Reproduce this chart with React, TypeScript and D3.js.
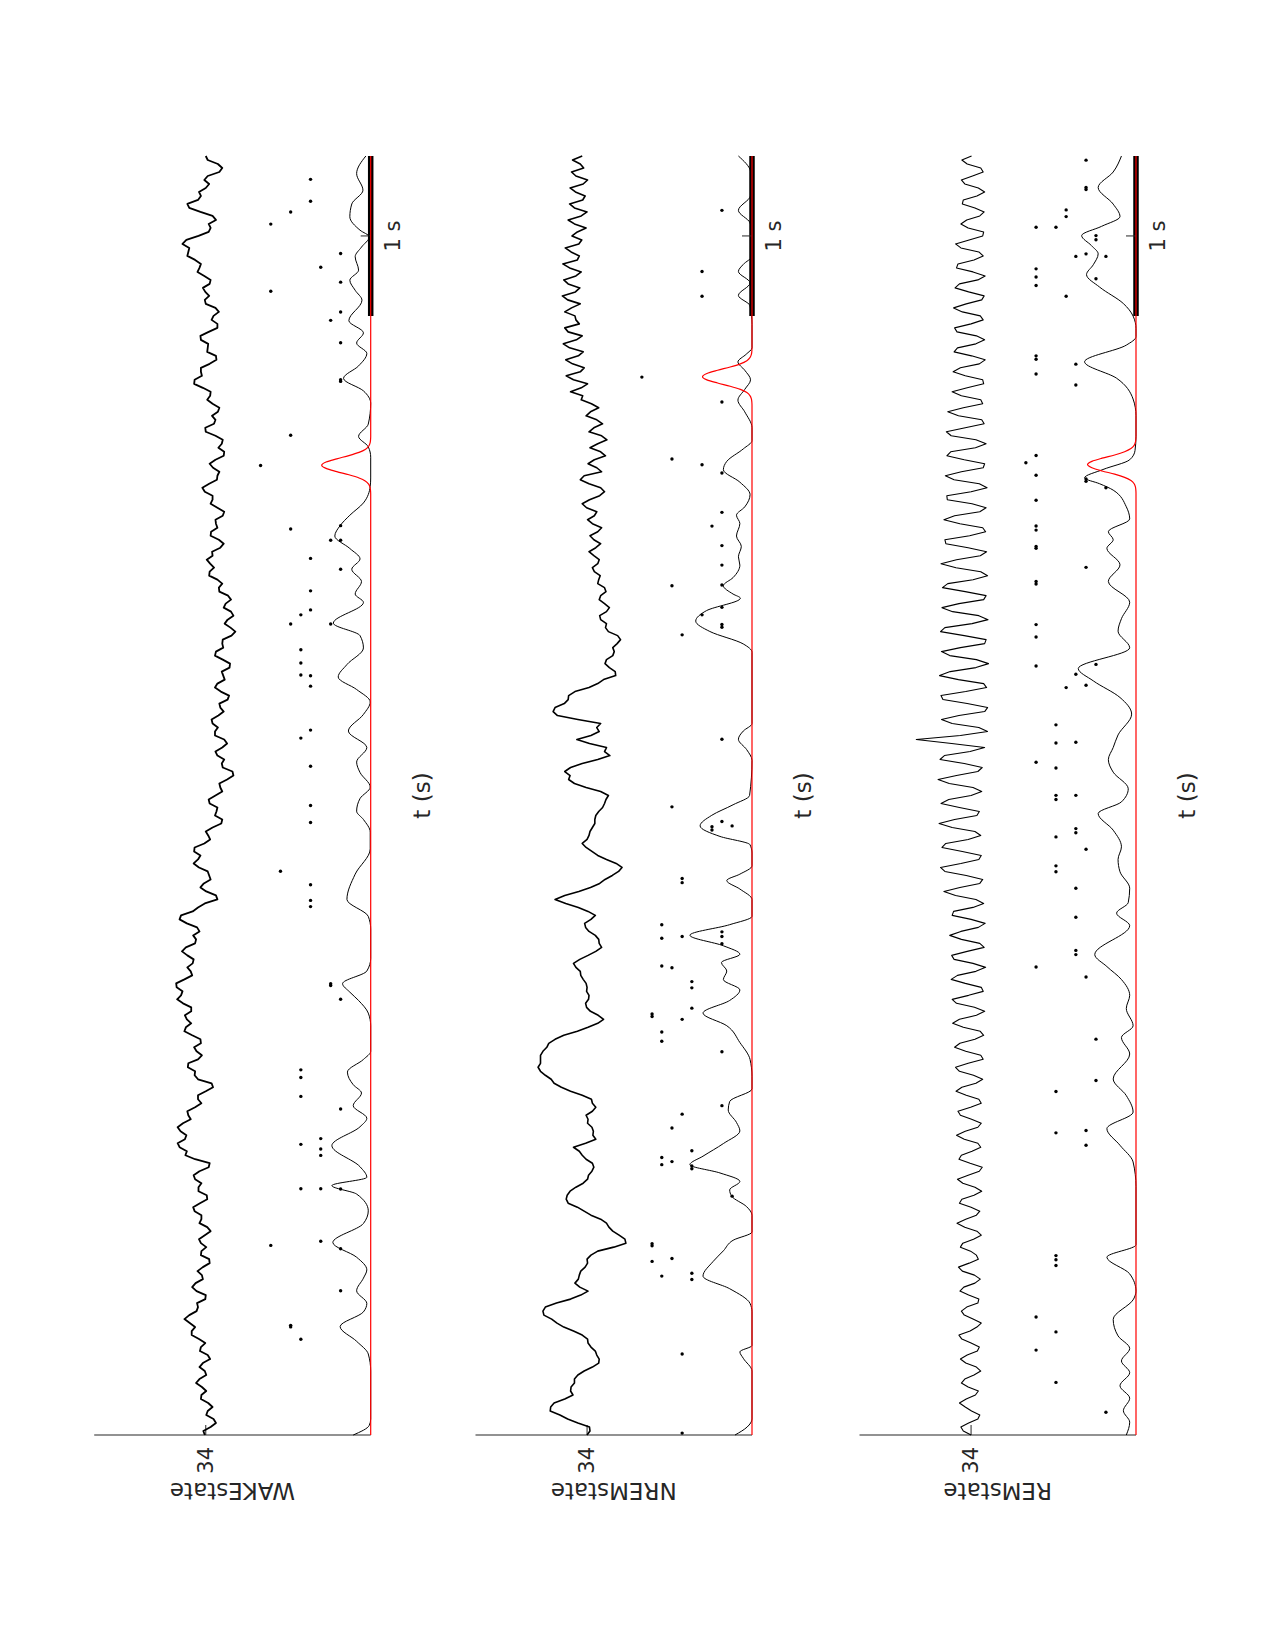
import * as d3 from 'd3';

// LFP sample step (s)
const LFP_DT = 0.025;

const wakeLfp = [
  34.2, 34.5, 33.0, 31.9, 32.4, 33.9, 33.6, 32.6, 33.5, 35.0, 34.9, 33.9, 34.8, 36.0, 35.3, 33.9, 34.2, 35.3, 34.6, 33.1,
  33.6, 35.2, 35.0, 34.1, 35.4, 36.9, 36.9, 36.2, 37.3, 38.4, 37.4, 35.9, 35.6, 35.8, 34.1, 34.0, 35.9, 36.8, 36.1, 34.6,
  34.8, 35.7, 34.6, 33.2, 33.3, 35.0, 34.9, 33.9, 35.0, 35.4, 34.2, 33.0, 33.7, 35.3, 34.9, 34.9, 36.3, 36.6, 35.2, 33.7,
  33.8, 35.5, 35.5, 34.9, 36.2, 36.5, 35.3, 33.4, 33.2, 36.2, 38.2, 37.9, 39.4, 39.8, 38.3, 38.0, 39.2, 39.8, 38.7, 37.1,
  37.6, 37.8, 36.2, 34.9, 35.6, 35.6, 34.0, 32.5, 32.8, 35.6, 36.3, 36.2, 37.7, 37.6, 35.6, 34.8, 35.9, 36.4, 35.0, 35.1,
  36.8, 38.4, 38.1, 37.0, 37.9, 38.3, 37.0, 37.0, 38.7, 39.9, 39.1, 38.8, 40.0, 40.1, 38.4, 36.8, 37.1, 37.8, 36.7, 36.5,
  37.8, 38.9, 38.1, 36.2, 36.0, 36.6, 35.3, 35.8, 37.9, 39.4, 39.1, 36.7, 35.6, 34.2, 31.6, 31.9, 33.9, 35.1, 34.4, 33.0,
  33.3, 33.6, 35.4, 36.5, 35.6, 35.1, 36.4, 36.3, 34.3, 33.1, 33.5, 34.0, 32.6, 30.8, 30.6, 32.1, 31.8, 31.6, 33.2, 33.4,
  32.0, 30.6, 31.0, 31.2, 29.6, 28.3, 28.5, 30.5, 30.7, 30.2, 31.6, 32.0, 30.6, 29.6, 30.2, 32.1, 32.1, 31.5, 32.6, 32.8,
  31.4, 30.3, 31.0, 31.2, 29.5, 29.2, 30.9, 32.1, 31.6, 30.1, 30.4, 30.7, 29.1, 29.0, 30.5, 32.1, 31.9, 30.4, 30.6, 30.5,
  28.7, 27.9, 28.9, 30.1, 29.5, 28.3, 28.8, 30.3, 29.9, 28.8, 29.4, 31.2, 31.3, 30.6, 31.6, 33.3, 33.2, 32.3, 33.1, 33.8,
  32.6, 32.7, 31.0, 30.3, 31.3, 33.0, 32.9, 31.6, 31.9, 32.0, 30.5, 30.2, 31.6, 33.0, 32.6, 32.6, 34.2, 34.7, 33.3, 31.7,
  31.6, 31.2, 32.5, 33.2, 32.0, 30.3, 30.2, 31.4, 30.7, 30.5, 32.0, 34.0, 34.1, 32.3, 32.0, 32.7, 31.5, 31.2, 32.6, 33.7,
  33.1, 33.0, 34.6, 36.4, 36.3, 34.8, 35.0, 35.0, 33.2, 31.8, 31.9, 33.7, 33.6, 33.5, 35.0, 35.1, 33.4, 31.6, 31.6, 32.8,
  32.4, 31.3, 32.0, 34.0, 34.2, 33.3, 34.1, 34.6, 33.2, 33.0, 34.3, 35.7, 35.3, 35.0, 36.2, 37.8, 37.6, 37.4, 38.8, 38.0,
  35.5, 33.4, 33.0, 33.4, 31.9, 32.6, 35.1, 37.4, 37.8, 35.6, 35.0, 35.4, 34.0, 33.3, 34.3, 33.6, 31.2, 30.6, 31.5, 33.6,
  34.0,
];

const nremLfp = [
  34.0, 33.4, 33.5, 35.9, 38.0, 39.6, 41.6, 41.5, 40.8, 38.6, 36.9, 37.4, 37.3, 36.6, 36.6, 35.9, 34.6, 32.9, 31.6, 31.5,
  32.0, 32.3, 33.2, 33.8, 33.9, 35.0, 36.8, 38.8, 40.2, 41.3, 42.9, 43.1, 42.6, 40.3, 37.4, 35.3, 33.8, 35.5, 36.5, 35.8,
  35.6, 35.3, 34.4, 33.9, 34.0, 33.2, 31.8, 28.5, 26.0, 26.2, 27.4, 28.7, 29.5, 30.0, 31.2, 33.2, 34.6, 36.0, 37.9, 38.3,
  38.1, 37.5, 36.3, 34.8, 33.9, 33.7, 33.0, 32.6, 32.9, 34.2, 35.0, 35.6, 36.8, 34.3, 32.2, 32.8, 32.7, 33.0, 33.9, 33.8,
  34.2, 32.9, 32.2, 32.9, 33.1, 35.0, 37.4, 39.3, 40.8, 41.4, 42.6, 43.6, 44.1, 43.6, 43.6, 43.6, 43.1, 42.3, 41.9, 40.6,
  38.8, 36.0, 33.8, 31.8, 30.6, 31.7, 33.3, 34.1, 34.3, 33.7, 33.6, 34.1, 34.0, 34.2, 34.8, 35.3, 35.4, 36.3, 36.8, 35.5,
  33.8, 32.2, 31.0, 31.5, 31.6, 32.3, 33.6, 34.3, 34.5, 33.2, 32.3, 33.8, 35.8, 38.4, 40.6, 38.6, 35.7, 33.3, 31.4, 30.3,
  28.8, 27.5, 26.8, 28.0, 30.0, 31.8, 33.0, 34.2, 35.0, 34.0, 33.6, 33.4, 32.9, 32.4, 32.4, 32.2, 31.6, 30.8, 30.4, 30.1,
  29.6, 31.2, 34.2, 36.6, 37.8, 37.5, 38.6, 37.4, 35.0, 31.8, 29.3, 30.4, 30.0, 33.5, 36.1, 33.2, 31.5, 32.0, 31.2, 35.9,
  40.1, 41.0, 40.6, 38.7, 37.9, 37.8, 36.5, 33.6, 31.8, 30.6, 28.1, 28.2, 29.4, 30.3, 30.0, 28.7, 28.4, 28.7, 27.8, 27.1,
  27.7, 29.6, 30.2, 30.0, 31.2, 31.4, 30.0, 29.4, 30.4, 31.5, 31.2, 30.1, 30.4, 31.8, 31.6, 31.3, 32.5, 32.9, 31.8, 31.5,
  32.6, 33.6, 32.2, 31.2, 32.6, 33.4, 31.8, 31.0, 32.9, 33.9, 32.5, 32.0, 34.1, 35.0, 33.5, 31.4, 30.4, 31.2, 33.6, 35.4,
  34.6, 31.0, 32.0, 33.8, 32.5, 30.2, 31.2, 33.4, 31.8, 29.9, 31.0, 33.6, 32.6, 30.8, 32.0, 34.2, 33.3, 31.6, 33.1, 35.2,
  34.9, 37.4, 35.2, 33.9, 36.8, 38.3, 35.4, 34.6, 37.0, 38.4, 35.8, 34.8, 37.6, 38.9, 36.2, 35.0, 37.9, 38.6, 35.6, 36.3,
  36.5, 38.6, 37.2, 35.4, 38.0, 39.1, 36.4, 35.5, 37.9, 38.8, 36.3, 35.2, 37.6, 39.0, 36.0, 35.6, 37.3, 38.5, 35.7, 35.1,
  37.1, 36.0, 34.2, 36.6, 37.9, 35.2, 34.0, 36.6, 37.6, 34.9, 34.4, 36.4, 37.5, 34.8, 33.9, 36.3, 37.2, 34.7, 35.4, 37.0,
  35.0,
];

const remLfp = [
  34.0, 35.6, 36.1, 34.5, 32.6, 32.2, 33.9, 35.2, 36.4, 35.0, 33.1, 32.5, 34.6, 36.0, 35.3, 33.4, 32.0, 32.9, 35.1, 36.2,
  34.8, 32.7, 32.3, 34.0, 35.9, 36.5, 34.2, 32.8, 31.9, 33.6, 35.4, 36.0, 34.9, 32.6, 32.4, 34.5, 36.3, 35.5, 33.2, 32.1,
  33.3, 35.8, 36.6, 34.4, 32.5, 32.9, 34.1, 36.2, 35.7, 33.5, 31.9, 32.8, 35.3, 36.9, 35.1, 32.9, 32.2, 34.0, 36.4, 35.9,
  33.4, 31.8, 33.2, 35.7, 36.8, 34.6, 32.3, 31.7, 34.2, 36.5, 36.0, 33.8, 32.0, 32.6, 35.4, 37.0, 35.2, 32.6, 31.9, 33.9,
  36.2, 36.7, 34.1, 31.9, 32.4, 35.0, 37.1, 35.9, 33.0, 31.6, 33.5, 36.4, 37.2, 34.6, 31.5, 32.0, 35.1, 37.4, 36.3, 33.2,
  31.4, 32.1, 35.6, 37.8, 36.4, 32.9, 31.2, 33.3, 37.0, 37.9, 34.5, 31.5, 31.9, 35.2, 38.1, 36.8, 33.0, 31.0, 33.6, 37.5,
  38.0, 34.8, 31.3, 32.2, 36.0, 38.4, 36.1, 32.5, 31.1, 34.0, 37.9, 37.6, 33.6, 31.4, 33.0, 37.2, 39.6, 36.3, 32.2, 31.6,
  35.0, 39.4, 40.3, 36.1, 32.4, 31.9, 35.8, 40.0, 39.2, 34.6, 32.0, 33.2, 37.9, 40.6, 37.4, 32.8, 32.3, 36.4, 40.2, 38.6,
  34.0, 31.8, 33.6, 38.5, 40.8, 37.0, 32.6, 31.7, 35.4, 40.4, 39.5, 34.2, 31.2, 38.0, 45.3, 36.2, 30.6, 32.4, 37.9, 40.1,
  36.5, 31.2, 30.6, 34.8, 39.8, 40.2, 35.1, 30.8, 31.4, 36.6, 40.5, 38.3, 33.0, 30.4, 32.9, 38.4, 40.1, 36.2, 31.2, 30.9,
  35.4, 40.3, 39.4, 33.8, 30.5, 32.4, 37.8, 40.0, 36.5, 31.4, 30.9, 35.2, 39.9, 38.8, 33.6, 30.6, 32.0, 37.1, 40.2, 37.0,
  32.1, 30.8, 34.6, 39.2, 39.4, 34.3, 31.0, 31.6, 36.3, 39.6, 37.4, 32.2, 30.9, 33.8, 38.9, 39.0, 34.0, 30.7, 32.3, 37.5,
  39.3, 36.0, 31.5, 31.2, 35.4, 39.0, 38.2, 33.1, 30.9, 33.0, 38.1, 39.1, 35.2, 31.3, 31.8, 36.6, 38.8, 35.6, 31.6, 32.0,
  36.0, 37.9, 34.8, 31.4, 31.6, 35.2, 37.7, 36.2, 32.3, 31.1, 33.9, 37.5, 36.8, 33.0, 31.2, 32.9, 36.9, 37.4, 34.0, 31.5,
  32.1, 35.8, 37.6, 35.0, 31.8, 31.3, 34.5, 37.3, 36.4, 32.6, 31.1, 33.6, 37.0, 36.7, 33.4, 31.5, 32.4, 36.1, 37.2, 34.4,
  31.6, 31.4, 34.6, 36.1, 34.9, 32.2, 31.3, 33.2, 35.8, 35.6, 32.8, 31.2, 32.5, 35.3, 36.0, 33.7, 31.5, 32.0, 34.8, 35.9,
  33.9,
];

// smoothed population rate, [t, value]
const wakeRate: [number, number][] = [
  [0, 3.6], [0.06, 0.3], [0.1, 0], [0.4, 0], [0.507, 0.5], [0.586, 2.9], [0.678, 6.3], [0.77, 1.5],
  [0.823, 0.8], [0.902, 2.9], [0.981, 1.5], [1.033, 0.8], [1.112, 2.9], [1.204, 7.8], [1.323, 1.5],
  [1.402, 0.5], [1.507, 2.9], [1.56, 8.0], [1.612, 0.8], [1.678, 2.2], [1.81, 8.0], [1.928, 2.2],
  [1.981, 0.8], [2.06, 3.6], [2.139, 1.9], [2.191, 3.6], [2.27, 4.8], [2.349, 1.5], [2.4, 0],
  [2.56, 0], [2.639, 0.5], [2.718, 2.5], [2.77, 4.3], [2.823, 5.8], [2.902, 0.8], [2.981, 0],
  [3.165, 0], [3.244, 0.5], [3.35, 4.9], [3.508, 3.2], [3.666, 0.1], [3.771, 0.1], [3.85, 1.5],
  [3.902, 2.9], [3.981, 2.2], [4.053, 0.1], [4.144, 2.2], [4.209, 2.9], [4.3, 0.8], [4.403, 4.6],
  [4.507, 1.5], [4.585, 0.1], [4.663, 2.9], [4.741, 6.7], [4.819, 4.9], [4.923, 1.5], [5.0, 2.2],
  [5.078, 7.7], [5.208, 1.5], [5.26, 3.2], [5.338, 1.9], [5.415, 3.9], [5.48, 2.2], [5.545, 4.3],
  [5.623, 7.4], [5.688, 6.3], [5.753, 4.3], [5.83, 1.5], [5.934, 0.1], [5.986, 0], [6.116, 0],
  [6.181, 0.5], [6.246, 2.5], [6.323, 0.5], [6.453, 0], [6.531, 1.5], [6.609, 5.6], [6.687, 2.5],
  [6.765, 0.8], [6.83, 2.9], [6.894, 1.5], [6.97, 4.5], [7.098, 1.8], [7.16, 3.2], [7.223, 4.3],
  [7.286, 2.5], [7.37, 3.2], [7.43, 1.9], [7.494, 0.3], [7.536, 2.2], [7.62, 4.3], [7.7, 3.9],
  [7.786, 1.6], [7.89, 2.9], [8.0, 1.0],
];

const nremRate: [number, number][] = [
  [0, 3.5], [0.05, 1.0], [0.1, 0], [0.4, 0], [0.48, 1.8], [0.52, 2.5], [0.56, 0], [0.77, 0],
  [0.823, 0.4], [0.915, 4.6], [0.994, 10.1], [1.086, 8.0], [1.152, 5.9], [1.218, 3.9], [1.27, 0],
  [1.375, 0], [1.428, 1.1], [1.494, 4.2], [1.533, 4.6], [1.586, 2.5], [1.639, 6.6], [1.691, 12.8],
  [1.744, 10.1], [1.823, 5.9], [1.902, 2.5], [1.955, 3.2], [2.033, 4.9], [2.086, 4.6], [2.165, 0],
  [2.244, 0], [2.349, 0.4], [2.455, 2.5], [2.56, 5.2], [2.639, 10.1], [2.718, 4.6], [2.784, 2.5],
  [2.849, 5.9], [2.902, 5.2], [2.955, 6.3], [3.007, 2.5], [3.06, 5.9], [3.126, 12.8], [3.192, 4.6],
  [3.244, 0], [3.35, 0], [3.415, 2.5], [3.468, 5.2], [3.508, 2.5], [3.56, 0], [3.64, 0],
  [3.692, 0.4], [3.744, 6.6], [3.81, 10.7], [3.876, 8.3], [3.942, 3.9], [4.0, 0.5], [4.22, 0],
  [4.287, 1.1], [4.352, 2.8], [4.403, 1.8], [4.45, 0], [4.896, 0], [4.948, 1.8], [5.026, 8.7],
  [5.091, 11.6], [5.156, 9.4], [5.234, 2.4], [5.26, 3.9], [5.312, 5.9], [5.363, 3.9], [5.441, 2.5],
  [5.493, 2.8], [5.558, 2.2], [5.623, 3.2], [5.701, 2.5], [5.753, 3.2], [5.805, 1.5], [5.882, 0.4],
  [5.96, 2.5], [6.038, 5.9], [6.09, 5.2], [6.168, 1.8], [6.22, 0], [6.3, 0], [6.4, 1.5],
  [6.473, 2.9], [6.54, 1.5], [6.6, 0.3], [6.66, 1.5], [6.712, 2.9], [6.76, 1.2], [6.8, 0],
  [6.946, 0], [7.063, 0.4], [7.128, 2.8], [7.206, 0.4], [7.278, 2.8], [7.322, 1.8], [7.374, 0],
  [7.517, 0], [7.582, 0.4], [7.66, 2.8], [7.75, 0.3], [7.83, 0], [7.906, 0.3], [8.0, 2.8],
];

const remRate: [number, number][] = [
  [0, 2.0], [0.08, 1.3], [0.152, 2.6], [0.23, 1.3], [0.308, 3.3], [0.39, 1.3], [0.463, 3.0],
  [0.541, 1.3], [0.62, 3.7], [0.723, 4.7], [0.85, 0.5], [0.9, 0], [1.008, 1.3], [1.112, 6.0],
  [1.19, 0], [1.553, 0], [1.708, 0.6], [1.812, 3.3], [1.916, 6.0], [2.02, 0.6], [2.123, 2.0],
  [2.227, 4.7], [2.383, 1.3], [2.486, 3.0], [2.56, 0.6], [2.668, 2.0], [2.75, 1.3], [2.849, 3.0],
  [2.93, 6.0], [3.005, 8.5], [3.186, 1.3], [3.264, 4.0], [3.33, 1.6], [3.42, 1.3], [3.523, 3.3],
  [3.6, 3.7], [3.679, 3.0], [3.783, 4.7], [3.887, 7.8], [3.96, 3.0], [4.042, 1.6], [4.146, 4.7],
  [4.224, 5.7], [4.3, 4.7], [4.379, 3.7], [4.509, 0.9], [4.613, 3.3], [4.717, 8.8], [4.794, 11.9],
  [4.924, 1.3], [5.028, 3.7], [5.106, 3.0], [5.209, 1.3], [5.339, 5.7], [5.443, 3.3], [5.546, 6.0],
  [5.6, 4.7], [5.65, 5.7], [5.73, 1.3], [5.806, 2.0], [5.91, 4.7], [5.95, 7.5], [5.987, 10.6],
  [6.039, 6.8], [6.1, 1.3], [6.158, 0.2], [6.247, 0], [6.376, 0], [6.48, 0.6], [6.61, 4.0],
  [6.713, 10.6], [6.817, 2.0], [6.87, 0], [6.92, 0], [6.999, 0.6], [7.077, 2.6], [7.18, 7.5],
  [7.258, 10.2], [7.32, 8.8], [7.388, 7.8], [7.44, 9.2], [7.502, 11.2], [7.56, 7.1], [7.621, 3.3],
  [7.699, 4.7], [7.803, 7.8], [7.9, 4.7], [8.0, 3.0],
];

// ripple-band envelope (red), [t, value]
const wakeRipple: [number, number][] = [
  [0, 0], [5.886, 0], [5.906, 0.03], [5.926, 0.12], [5.946, 0.39], [5.966, 1.05], [5.986, 2.4],
  [6.006, 4.5], [6.026, 7.0], [6.046, 9.2], [6.066, 10.1], [6.086, 9.2], [6.106, 7.0], [6.126, 4.5],
  [6.146, 2.4], [6.166, 1.05], [6.186, 0.39], [6.206, 0.12], [6.226, 0.03], [6.246, 0], [8, 0],
];
const nremRipple: [number, number][] = [
  [0, 0], [6.44, 0], [6.46, 0.03], [6.48, 0.12], [6.5, 0.39], [6.52, 1.06], [6.54, 2.4],
  [6.56, 4.5], [6.58, 7.1], [6.6, 9.3], [6.62, 10.2], [6.64, 9.3], [6.66, 7.1], [6.68, 4.5],
  [6.7, 2.4], [6.72, 1.06], [6.74, 0.39], [6.76, 0.12], [6.78, 0.03], [6.8, 0], [8, 0],
];
const remRipple: [number, number][] = [
  [0, 0], [5.89, 0], [5.91, 0.03], [5.93, 0.12], [5.95, 0.38], [5.97, 1.04], [5.99, 2.35],
  [6.01, 4.4], [6.03, 7.0], [6.05, 9.1], [6.07, 10.0], [6.09, 9.1], [6.11, 7.0], [6.13, 4.4],
  [6.15, 2.35], [6.17, 1.04], [6.19, 0.38], [6.21, 0.12], [6.23, 0.03], [6.25, 0], [8, 0],
];

// spikes, [t, unit row]
const wakeSpikes: [number, number][] = [
  [7.854, 4], [7.717, 4], [7.65, 6], [7.574, 8], [7.39, 1], [7.304, 3], [7.211, 1], [7.154, 8],
  [7.024, 1], [6.972, 2], [6.832, 1], [6.601, 1], [6.59, 1], [6.253, 6], [6.064, 9], [5.688, 1],
  [5.667, 6], [5.597, 2], [5.597, 1], [5.483, 4], [5.415, 1], [5.28, 4], [5.161, 4], [5.13, 5],
  [5.073, 6], [5.073, 2], [4.912, 5], [4.829, 5], [4.754, 5], [4.749, 4], [4.684, 4], [4.409, 4],
  [4.359, 5], [4.183, 4], [3.937, 4], [3.831, 4], [3.526, 7], [3.442, 4], [3.344, 4], [3.305, 4],
  [2.823, 2], [2.812, 2], [2.726, 1], [2.284, 5], [2.236, 5], [2.118, 5], [2.039, 1], [1.854, 3],
  [1.818, 5], [1.789, 3], [1.749, 3], [1.54, 5], [1.54, 3], [1.539, 1], [1.212, 3], [1.186, 8],
  [1.165, 1], [0.902, 1], [0.686, 6], [0.676, 6], [0.599, 5],
];
const nremSpikes: [number, number][] = [
  [7.66, 1], [7.278, 3], [7.123, 3], [6.617, 9], [6.461, 1], [6.105, 6], [6.069, 3], [6.017, 1],
  [5.771, 1], [5.685, 2], [5.563, 1], [5.441, 1], [5.317, 1], [5.312, 6], [5.177, 1], [5.13, 3],
  [5.07, 1], [5.052, 1], [5.005, 5], [4.352, 1], [3.929, 6], [3.837, 1], [3.81, 0], [3.805, 2],
  [3.784, 2], [3.481, 5], [3.455, 5], [3.192, 7], [3.147, 1], [3.118, 5], [3.118, 1], [3.107, 7],
  [3.073, 1], [2.934, 7], [2.923, 6], [2.836, 4], [2.797, 4], [2.67, 4], [2.634, 8], [2.618, 8],
  [2.6, 5], [2.521, 7], [2.463, 7], [2.397, 1], [2.06, 1], [2.007, 5], [1.92, 6], [1.778, 4],
  [1.736, 7], [1.71, 6], [1.691, 7], [1.683, 4], [1.665, 4], [1.494, 0], [1.196, 8], [1.183, 8],
  [1.104, 6], [1.086, 8], [1.012, 4], [0.994, 7], [0.973, 4], [0.507, 5], [0.012, 5],
];
const remSpikes: [number, number][] = [
  [7.974, 3], [7.803, 3], [7.79, 3], [7.663, 5], [7.621, 5], [7.554, 8], [7.554, 6], [7.502, 2],
  [7.476, 2], [7.388, 3], [7.372, 4], [7.372, 1], [7.294, 8], [7.243, 8], [7.19, 8], [7.232, 2],
  [7.123, 5], [6.75, 8], [6.729, 8], [6.698, 4], [6.636, 8], [6.568, 4], [6.127, 8], [6.081, 9],
  [6.003, 8], [5.98, 3], [5.965, 3], [5.925, 1], [5.847, 8], [5.686, 8], [5.66, 8], [5.557, 8],
  [5.546, 8], [5.427, 3], [5.339, 8], [5.323, 8], [5.069, 8], [4.991, 8], [4.82, 2], [4.81, 8],
  [4.758, 4], [4.69, 3], [4.675, 5], [4.442, 6], [4.333, 4], [4.328, 6], [4.208, 8], [4.172, 6],
  [4.001, 6], [4.001, 4], [3.975, 6], [3.793, 4], [3.767, 4], [3.741, 6], [3.664, 3], [3.56, 6],
  [3.523, 6], [3.42, 4], [3.238, 4], [3.031, 4], [3.005, 4], [2.927, 8], [2.865, 3], [2.476, 2],
  [2.217, 2], [2.149, 6], [1.905, 3], [1.89, 6], [1.812, 3], [1.122, 6], [1.096, 6], [1.06, 6],
  [0.738, 8], [0.645, 6], [0.531, 8], [0.329, 6], [0.142, 1],
];

// level of each unit row in the raster
const unitRows = [4.1, 6.2, 8.25, 10.3, 12.4, 14.4, 16.5, 18.6, 20.6, 22.7];

const stateNames = ['WAKEstate', 'NREMstate', 'REMstate'];
const yTicks = [34];
const scaleBar = [7, 8];
const timeDomain = [0, 8];
const yDomain = [0, 57];

const INK = '#262626';

// the figure is laid out landscape and then turned a quarter turn
const x = d3.scaleLinear().domain(timeDomain).range([215, 1494]);
const panelBase = [370.7, 752, 1136];
const panelH = 276.5;
const lfpWidth = [1.8, 1.6, 1.1];

const panels = [
  { lfp: wakeLfp, rate: wakeRate, ripple: wakeRipple, spikes: wakeSpikes },
  { lfp: nremLfp, rate: nremRate, ripple: nremRipple, spikes: nremSpikes },
  { lfp: remLfp, rate: remRate, ripple: remRipple, spikes: remSpikes },
];

function StatePanel({ name, base, lw, lfp, rate, ripple, spikes }: any) {
  const top = base - panelH;
  const y = d3.scaleLinear().domain(yDomain).range([base, top]);
  const lfpPath = d3.line<number>()
    .x((_, i) => x(i * LFP_DT))
    .y(d => y(d))(lfp);
  const smooth = d3.line<[number, number]>()
    .x(d => x(d[0]))
    .y(d => y(d[1]))
    .curve(d3.curveMonotoneX);
  const barMid = (scaleBar[0] + scaleBar[1]) / 2;

  return (
    <g>
      <line x1={x(0)} x2={x(0)} y1={top} y2={base} stroke={INK} strokeWidth={1.2} />
      {yTicks.map(t => (
        <g key={t}>
          <line x1={x(0)} x2={x(0) + 10} y1={y(t)} y2={y(t)} stroke={INK} strokeWidth={1} />
          <text x={x(0) - 12} y={y(t)} textAnchor="end" dominantBaseline="central"
            fontSize={21} fill={INK}>{t}</text>
        </g>
      ))}
      <text transform={`translate(167,${(top + base) / 2}) rotate(-90)`} textAnchor="middle"
        fontSize={23} fill={INK}>{name}</text>

      <path d={lfpPath || ''} fill="none" stroke="#000" strokeWidth={lw} strokeLinejoin="round" />

      {spikes.map(([t, r]: [number, number], i: number) => (
        <circle key={i} cx={x(t)} cy={y(unitRows[r])} r={1.7} fill="#000" />
      ))}

      <line x1={x(scaleBar[0])} x2={x(scaleBar[1])} y1={base} y2={base} stroke="#000" strokeWidth={5.5} />
      <line x1={x(barMid)} x2={x(barMid)} y1={base} y2={base - 10} stroke={INK} strokeWidth={1} />

      <path d={smooth(rate) || ''} fill="none" stroke="#000" strokeWidth={1} />
      <path d={smooth(ripple) || ''} fill="none" stroke="#ff0000" strokeWidth={1.2} />

      <text x={x(barMid)} y={base + 29} textAnchor="middle" fontSize={21} fill={INK}>1 s</text>
      <text x={x(4)} y={base + 59} textAnchor="middle" fontSize={23} fill={INK}>t (s)</text>
    </g>
  );
}

export default function App() {
  return (
    <svg width={1275} height={1650}
      style={{ position: 'absolute', left: 0, top: 0, background: '#fff' }}
      fontFamily='"DejaVu Sans", sans-serif'>
      <g transform="translate(0,1650) rotate(-90)">
        {panels.map((p, i) => (
          <StatePanel key={stateNames[i]} name={stateNames[i]} base={panelBase[i]} lw={lfpWidth[i]} {...p} />
        ))}
      </g>
    </svg>
  );
}
